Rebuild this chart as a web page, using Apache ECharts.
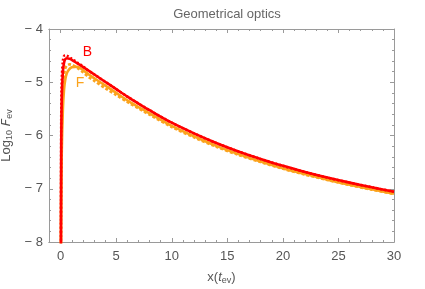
<!DOCTYPE html>
<html><head><meta charset="utf-8">
<script src="https://cdn.jsdelivr.net/npm/echarts@6/dist/echarts.min.js"></script>
<style>html,body{margin:0;padding:0;background:#fff}#c{width:425px;height:289px}</style>
</head><body><div id="c"></div>
<script>
var xs = [0.02,0.05,0.1,0.2,0.3,0.4,0.55,0.8,1,1.5,2,2.5,3,4,5,6,7,8,10,12,14,16,18,20,22,24,26,28,30];
var redSolid = [-8.5,-6.2,-5.3,-4.8,-4.64,-4.57,-4.55,-4.56,-4.58,-4.645,-4.71,-4.78,-4.85,-4.99,-5.13,-5.27,-5.40,-5.525,-5.76,-5.96,-6.14,-6.30,-6.44,-6.57,-6.685,-6.79,-6.885,-6.972,-7.055];
var redDotted = [-8.5,-5.7,-4.95,-4.6,-4.51,-4.49,-4.5,-4.53,-4.56,-4.63,-4.70,-4.78,-4.85,-4.99,-5.13,-5.27,-5.40,-5.525,-5.76,-5.96,-6.14,-6.30,-6.44,-6.57,-6.685,-6.79,-6.885,-6.972,-7.055];
var orangeSolid = [-8.5,-7.3,-6.3,-5.5,-5.15,-4.97,-4.83,-4.75,-4.72,-4.71,-4.77,-4.85,-4.92,-5.06,-5.2,-5.34,-5.465,-5.585,-5.82,-6.015,-6.195,-6.35,-6.49,-6.615,-6.725,-6.83,-6.925,-7.01,-7.095];
var orangeDashed = [-8.5,-6.6,-5.8,-5.15,-4.87,-4.75,-4.69,-4.665,-4.67,-4.73,-4.81,-4.9,-4.97,-5.11,-5.24,-5.37,-5.49,-5.61,-5.84,-6.035,-6.21,-6.365,-6.5,-6.625,-6.735,-6.835,-6.93,-7.017,-7.1];
var xMajor = [0,5,10,15,20,25,30];
var xMinor = [1,2,3,4,6,7,8,9,11,12,13,14,16,17,18,19,21,22,23,24,26,27,28,29];
var labelB = {text:'B', x:2.4, y:-4.43};
var labelF = {text:'F', x:1.75, y:-5.01};

var RED = '#ff0000', ORANGE = '#fba31c', FRAME = '#9a9a9a', TXT = '#555';
var FONT = 'Liberation Sans, Arial';
function pairs(v){ return xs.map(function(x,i){return [x,v[i]];}); }
function minus(v){ return v < 0 ? '\u2212 ' + Math.abs(v) : String(v); }

var xBase = {type:'value', min:-1.05, max:30, splitLine:{show:false},
  axisLine:{show:true, onZero:false, lineStyle:{color:FRAME}}};
function xAx(pos, major, labels){
  return Object.assign({}, xBase, {position:pos,
    axisTick:{show:true, inside:true, length: major?4:2, lineStyle:{color:FRAME}, customValues: major?xMajor:xMinor},
    axisLabel:{show:labels, customValues:xMajor, color:TXT, fontSize:13, fontFamily:FONT, margin:8}});
}
var xAxes = [xAx('bottom',true,true), xAx('bottom',false,false), xAx('top',true,false), xAx('top',false,false)];
xAxes[0].name = '{n|x(}{i|t}{s|ev}{n|)}';
xAxes[0].nameLocation = 'middle';
xAxes[0].nameGap = 28;
xAxes[0].nameTextStyle = {rich:{
  n:{fontSize:13, color:TXT, fontFamily:FONT},
  i:{fontSize:13, color:TXT, fontStyle:'italic', fontFamily:FONT},
  s:{fontSize:9, color:TXT, fontFamily:FONT, padding:[6,0,0,0]}}};

function yAx(pos, labels){
  return {type:'value', min:-8, max:-4, interval:1, position:pos, splitLine:{show:false},
    axisLine:{show:true, onZero:false, lineStyle:{color:FRAME}},
    axisTick:{show:true, inside:true, length:4, lineStyle:{color:FRAME}},
    minorTick:{show:true, splitNumber:5, length:2, lineStyle:{color:FRAME}},
    axisLabel:{show:labels, color:TXT, fontSize:13, fontFamily:FONT, margin:6, formatter:minus}};
}
var yAxes = [yAx('left',true), yAx('right',false)];
yAxes[0].name = '{n|Log}{s|10}{n| }{i|F\u0303}{s|ev}';
yAxes[0].nameLocation = 'middle';
yAxes[0].nameGap = 33;
yAxes[0].nameRotate = 90;
yAxes[0].nameTextStyle = {rich:{
  n:{fontSize:13, color:TXT, fontFamily:FONT},
  i:{fontSize:13, color:TXT, fontStyle:'italic', fontFamily:'DejaVu Sans'},
  s:{fontSize:9, color:TXT, fontFamily:FONT, padding:[6,0,0,0]}}};

function ser(name, data, color, type){
  return {name:name, type:'line', xAxisIndex:0, yAxisIndex:0, data:pairs(data), showSymbol:false, smooth:0.3,
    lineStyle:{color:color, width:2.6, type:type}, clip:true, animation:false, z:2};
}
var chart = echarts.init(document.getElementById('c'), null, {renderer:'canvas'});
chart.setOption({
  animation:false,
  title:{text:'Geometrical optics', left:222, top:3, textAlign:'center',
    textStyle:{fontSize:13, fontWeight:'normal', color:'#666', fontFamily:FONT}},
  grid:{left:49, right:31, top:29, bottom:47, containLabel:false, outerBoundsMode:'none'},
  xAxis:xAxes, yAxis:yAxes,
  series:[
    ser('F dashed', orangeDashed, ORANGE, [3,2]),
    ser('F', orangeSolid, ORANGE, 'solid'),
    ser('B', redSolid, RED, 'solid'),
    ser('B dotted', redDotted, RED, [2,2])
  ]
});
var pB = chart.convertToPixel({xAxisIndex:0, yAxisIndex:0}, [labelB.x, labelB.y]);
var pF = chart.convertToPixel({xAxisIndex:0, yAxisIndex:0}, [labelF.x, labelF.y]);
chart.setOption({graphic:[
  {type:'text', x:pB[0], y:pB[1], style:{text:labelB.text, fill:RED, font:'14px ' + FONT, align:'center', verticalAlign:'middle'}},
  {type:'text', x:pF[0], y:pF[1], style:{text:labelF.text, fill:ORANGE, font:'14px ' + FONT, align:'center', verticalAlign:'middle'}}
]});
</script></body></html>
